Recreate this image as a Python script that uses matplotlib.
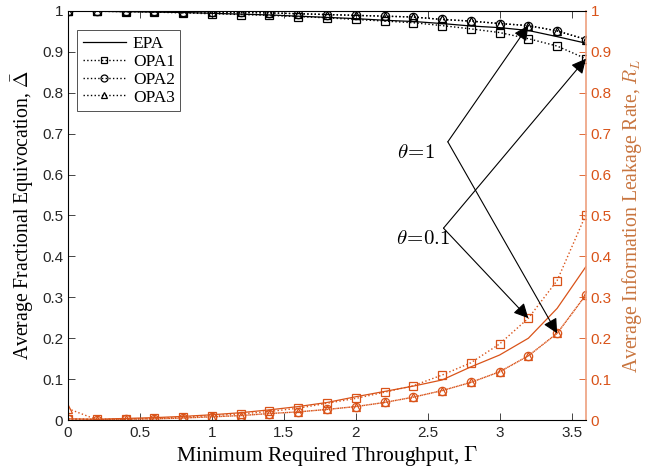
import numpy as np
import matplotlib
matplotlib.use("Agg")
import matplotlib.pyplot as plt

plt.rcParams['mathtext.fontset'] = 'cm'

gamma = [0.0, 0.2, 0.4, 0.6, 0.8, 1.0, 1.2, 1.4, 1.6, 1.8,
         2.0, 2.2, 2.4, 2.6, 2.8, 3.0, 3.2, 3.4, 3.6]

# fractional equivocation (left axis)
eq_epa = [1.0, 0.999, 0.998, 0.997, 0.996, 0.994, 0.992, 0.990, 0.987, 0.984,
          0.981, 0.977, 0.974, 0.969, 0.963, 0.959, 0.952, 0.937, 0.921]
eq_opa1 = [1.0, 0.999, 0.998, 0.997, 0.995, 0.993, 0.991, 0.989, 0.986, 0.983,
           0.979, 0.975, 0.971, 0.964, 0.956, 0.947, 0.932, 0.914, 0.883]
eq_opa2 = [1.0, 1.0, 0.999, 0.999, 0.998, 0.997, 0.996, 0.995, 0.993, 0.991,
           0.989, 0.987, 0.985, 0.979, 0.975, 0.969, 0.964, 0.951, 0.930]
eq_opa3 = [1.0, 1.0, 0.999, 0.999, 0.998, 0.997, 0.996, 0.995, 0.993, 0.991,
           0.989, 0.987, 0.985, 0.979, 0.975, 0.969, 0.964, 0.951, 0.930]

# information leakage rate (right axis)
lk_epa = [0.003, 0.002, 0.004, 0.006, 0.009, 0.013, 0.018, 0.025, 0.033, 0.043,
          0.057, 0.070, 0.083, 0.098, 0.130, 0.159, 0.200, 0.273, 0.375]
lk_opa1 = [0.003, 0.002, 0.003, 0.004, 0.007, 0.011, 0.015, 0.021, 0.029, 0.041,
           0.053, 0.068, 0.084, 0.110, 0.140, 0.186, 0.249, 0.341, 0.502]
lk_opa2 = [0.002, 0.001, 0.002, 0.003, 0.005, 0.008, 0.011, 0.016, 0.020, 0.026,
           0.033, 0.043, 0.056, 0.072, 0.092, 0.118, 0.157, 0.212, 0.306]
lk_opa3 = [0.028, 0.001, 0.002, 0.003, 0.005, 0.008, 0.011, 0.016, 0.020, 0.026,
           0.033, 0.043, 0.056, 0.072, 0.092, 0.118, 0.157, 0.212, 0.306]

orange = '#D95319'
serif = 'Liberation Serif'
sans = 'Liberation Sans'

fig = plt.figure(figsize=(6.7, 4.72), dpi=100)
ax = fig.add_axes([0.1015, 0.110, 0.773, 0.867])
ax2 = ax.twinx()

mk = dict(markersize=6, markerfacecolor='none', markeredgewidth=0.9)
ax.plot(gamma, eq_epa, '-', color='k', lw=0.9, label='EPA')
ax.plot(gamma, eq_opa1, ':', color='k', lw=1, marker='s', label='OPA1', **mk)
ax.plot(gamma, eq_opa2, ':', color='k', lw=1, marker='o', label='OPA2', **mk)
ax.plot(gamma, eq_opa3, ':', color='k', lw=1, marker='^', label='OPA3', **mk)

ax2.plot(gamma, lk_epa, '-', color=orange, lw=0.9)
ax2.plot(gamma, lk_opa1, ':', color=orange, lw=1, marker='s', **mk)
ax2.plot(gamma, lk_opa2, ':', color=orange, lw=1, marker='o', **mk)
ax2.plot(gamma, lk_opa3, ':', color=orange, lw=1, marker='^', **mk)

ax.set_xlim(0, 3.6)
ax.set_ylim(0, 1)
ax2.set_ylim(0, 1)
ax.set_xticks(np.arange(0, 3.6, 0.5))
ax.set_yticks(np.arange(0, 1.01, 0.1))
ax2.set_yticks(np.arange(0, 1.01, 0.1))
ax.set_xticklabels(['0', '0.5', '1', '1.5', '2', '2.5', '3', '3.5'])
ax.set_yticklabels(['0', '0.1', '0.2', '0.3', '0.4', '0.5', '0.6', '0.7', '0.8', '0.9', '1'])
ax2.set_yticklabels(['0', '0.1', '0.2', '0.3', '0.4', '0.5', '0.6', '0.7', '0.8', '0.9', '1'])

ax.tick_params(axis='x', direction='in', top=True, length=5, width=0.6,
               labelsize=11, colors='#262626', pad=4)
ax.tick_params(axis='y', direction='in', length=5, width=0.6,
               labelsize=11, colors='#262626')
ax2.tick_params(axis='y', direction='in', length=5, width=0.6,
                labelsize=11, colors=orange)
for lab in ax.get_xticklabels() + ax.get_yticklabels() + ax2.get_yticklabels():
    lab.set_fontfamily(sans)

for side in ['left', 'bottom', 'top']:
    ax.spines[side].set_color('#262626')
    ax.spines[side].set_linewidth(0.7)
ax2.spines['right'].set_color('#EE9F7E')
ax2.spines['right'].set_linewidth(1.2)
ax.spines['right'].set_visible(False)

ax.set_xlabel(r'Minimum Required Throughput, $\Gamma$', fontsize=15.5,
              fontfamily=serif, labelpad=3)
ax.set_ylabel(r'Average Fractional Equivocation, $\bar{\Delta}$', fontsize=14.2,
              fontfamily=serif, labelpad=4)
ax2.set_ylabel(r'Average Information Leakage Rate, $R_L$', fontsize=14.2,
               fontfamily=serif, color='#C8753F', labelpad=6)

leg = ax.legend(loc='upper left', bbox_to_anchor=(0.018, 0.952), fancybox=False,
                edgecolor='#262626', prop={'family': serif, 'size': 12.5},
                handlelength=2.5, handletextpad=0.4, borderpad=0.3,
                labelspacing=0.1, borderaxespad=0)
leg.get_frame().set_linewidth(0.7)
for h in leg.legend_handles:
    h.set_markersize(5)

# theta labels with arrows pointing at the curves
arrow = dict(arrowstyle='-|>', color='k', lw=0.8, mutation_scale=22,
             shrinkA=0, shrinkB=0)
v1 = (2.64, 0.680)
v2 = (2.61, 0.469)
ax2.annotate('', xy=(gamma[16], eq_opa2[16]), xytext=v1, arrowprops=arrow)
ax2.annotate('', xy=(gamma[17], lk_opa2[17]), xytext=v1, arrowprops=arrow)
ax2.annotate('', xy=(gamma[18], eq_opa1[18]), xytext=v2, arrowprops=arrow)
ax2.annotate('', xy=(gamma[16], lk_opa1[16]), xytext=v2, arrowprops=arrow)
ax2.text(2.42, 0.654, r'$\theta\!\mathrm{=}\!1$', fontsize=15, ha='center', va='center')
ax2.text(2.47, 0.446, r'$\theta\!\mathrm{=}\!0.1$', fontsize=15, ha='center', va='center')

fig.savefig('out.png', dpi=100)
